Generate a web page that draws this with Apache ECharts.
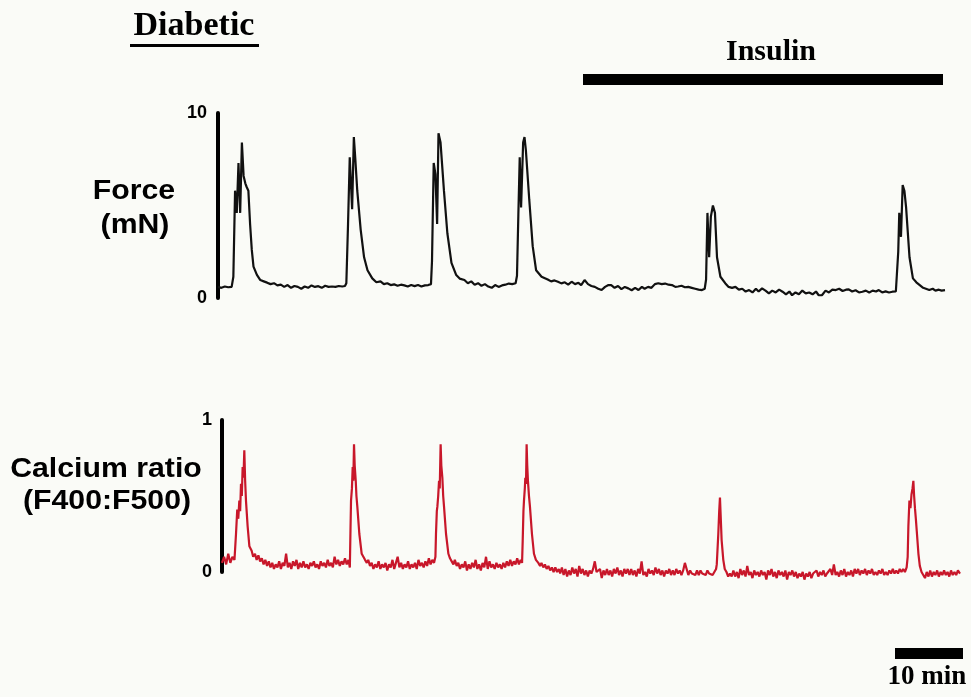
<!DOCTYPE html>
<html>
<head>
<meta charset="utf-8">
<title>Diabetic</title>
<script src="https://cdn.jsdelivr.net/npm/echarts@6/dist/echarts.min.js"></script>
<style>
  html, body { margin: 0; padding: 0; background: #fafbf7; }
  #chart { width: 971px; height: 697px; }
</style>
</head>
<body>
<div id="chart"></div>
<script>
// time span of the recording (min) and axis ticks
const timeMax = 106.5;
const forceTicks = [0, 10];
const calciumTicks = [0, 1];

// force trace, [minutes, mN]
const forceTrace = [
  [0,0.6],[0.5,0.55],[1,0.62],[1.5,0.58],[2,0.6],[2.25,1.15],[2.5,5.8],[2.75,4.6],[3,7.3],[3.25,4.6],
  [3.5,8.4],[3.75,6.6],[4,6.2],[4.2,6.0],[4.45,5.8],[4.7,4.0],[4.95,2.6],[5.2,1.7],[5.7,1.25],[6.2,0.97],
  [6.7,0.9],[7.2,0.83],[7.7,0.75],[8.2,0.8],[8.7,0.68],[9.2,0.72],[9.7,0.6],[10.2,0.7],[10.7,0.55],[11.2,0.65],
  [11.7,0.6],[12.2,0.5],[12.7,0.62],[13.2,0.55],[13.7,0.68],[14.2,0.6],[14.7,0.64],[15.2,0.55],[15.7,0.66],[16.2,0.6],
  [16.7,0.62],[17.2,0.6],[17.7,0.65],[18.2,0.62],[18.6,0.65],
  [18.8,0.8],[19.05,4.0],[19.3,7.6],[19.5,7.7],[19.65,4.8],[19.9,8.7],[20.1,7.6],[20.4,5.8],[20.9,3.7],[21.4,2.2],
  [21.9,1.5],[22.6,1.06],[23.2,0.85],[23.8,0.9],[24.3,0.75],[24.8,0.8],[25.3,0.7],[25.8,0.74],[26.3,0.66],[26.8,0.72],
  [27.3,0.68],[27.8,0.62],[28.3,0.7],[28.8,0.64],[29.3,0.7],[29.8,0.62],[30.3,0.68],[30.8,0.7],[31.2,0.75],
  [31.35,2.0],[31.6,7.3],[31.85,6.7],[32.1,4.0],[32.3,8.9],[32.6,8.4],[33.1,5.8],[33.6,3.5],[34.2,1.9],[34.9,1.24],
  [35.4,1.05],[36.1,0.97],[36.6,0.8],[37.1,0.9],[37.6,0.72],[38.1,0.8],[38.6,0.66],[39.1,0.75],[39.6,0.62],[40.1,0.55],
  [40.6,0.7],[41.1,0.6],[41.6,0.68],[42.1,0.72],[42.6,0.78],[43.1,0.75],[43.6,0.8],
  [43.8,1.2],[44.0,4.5],[44.2,7.6],[44.4,4.9],[44.7,8.4],[44.9,8.7],[45.1,8.0],[45.6,5.3],[46.1,2.8],[46.6,1.5],
  [47.4,1.15],[48.3,1.0],[48.8,0.9],[49.3,0.95],[49.8,0.88],[50.3,0.79],[50.8,0.85],[51.3,0.72],[51.8,0.88],[52.3,0.75],
  [52.8,0.82],[53.2,0.7],[53.7,0.97],[54.2,0.75],[54.7,0.65],[55.2,0.6],[55.7,0.5],[56.2,0.43],[56.7,0.6],[57.2,0.7],
  [57.6,0.7],[58.1,0.55],[58.6,0.65],[59.1,0.48],[59.6,0.6],[60.1,0.52],[60.6,0.42],[61.1,0.55],[61.6,0.43],[62.1,0.6],
  [62.5,0.5],[63.0,0.6],[63.5,0.55],[64.0,0.75],[64.5,0.8],[65.0,0.75],[65.5,0.78],[66.0,0.72],[66.5,0.7],[67.0,0.6],
  [67.4,0.62],[67.9,0.66],[68.4,0.58],[68.9,0.6],[69.4,0.55],[69.9,0.5],[70.4,0.45],[70.9,0.43],[71.3,0.5],
  [71.5,1.0],[71.7,4.6],[71.95,2.2],[72.2,4.4],[72.5,5.0],[72.8,4.6],[73.1,2.2],[73.6,1.15],[74.3,0.8],[74.8,0.6],
  [75.3,0.55],[75.8,0.6],[76.3,0.45],[76.8,0.5],[77.3,0.35],[77.8,0.43],[78.3,0.3],[78.8,0.5],[79.2,0.35],[79.7,0.52],
  [80.2,0.4],[80.7,0.25],[81.2,0.4],[81.7,0.3],[82.2,0.45],[82.7,0.34],[83.2,0.2],[83.7,0.35],[84.1,0.15],[84.6,0.3],
  [85.1,0.2],[85.6,0.4],[86.1,0.25],[86.6,0.3],[87.1,0.2],[87.6,0.35],[88.0,0.15],[88.5,0.16],[89.0,0.4],[89.5,0.3],
  [90.0,0.45],[90.5,0.43],[91.0,0.5],[91.5,0.38],[92.0,0.45],[92.4,0.47],[92.9,0.35],[93.4,0.42],[93.9,0.3],[94.4,0.34],
  [94.9,0.4],[95.4,0.3],[95.9,0.4],[96.4,0.35],[96.8,0.43],[97.3,0.3],[97.8,0.36],[98.3,0.3],[98.8,0.34],[99.3,0.35],
  [99.5,0.45],[99.65,2.5],[99.8,4.6],[100.05,3.3],[100.3,6.1],[100.55,5.8],[100.8,4.9],[101.3,2.2],[101.8,1.06],[102.3,0.85],
  [102.8,0.7],[103.3,0.55],[103.7,0.5],[104.2,0.43],[104.7,0.5],[105.1,0.4],[105.6,0.45],[106.0,0.4],[106.5,0.43]
];

// calcium ratio trace (F400:F500), [minutes, ratio]
const calciumTrace = [
  [0,0.06],[0.3,0.1],[0.6,0.05],[0.9,0.12],[1.2,0.06],[1.5,0.1],[1.8,0.08],[2.02,0.25],[2.2,0.41],[2.35,0.35],
  [2.5,0.47],[2.62,0.4],[2.74,0.58],[2.86,0.5],[2.98,0.69],[3.1,0.62],[3.22,0.8],[3.34,0.6],[3.46,0.47],[3.7,0.3],
  [3.95,0.17],[4.28,0.14],[4.5,0.1],[4.76,0.12],[5.0,0.08],[5.25,0.11],[5.5,0.07],[5.75,0.09],[6.0,0.05],[6.25,0.08],
  [6.5,0.04],[6.75,0.07],[7.0,0.03],[7.25,0.06],[7.5,0.02],[7.75,0.05],[8.0,0.03],[8.25,0.07],[8.5,0.02],[8.75,0.06],
  [9.0,0.04],[9.25,0.12],[9.5,0.03],[9.75,0.06],[10.0,0.02],[10.25,0.07],[10.5,0.04],[10.75,0.08],[11.0,0.02],[11.25,0.06],
  [11.5,0.03],[11.75,0.07],[12.0,0.03],[12.25,0.05],[12.5,0.02],[12.75,0.06],[13.0,0.04],[13.25,0.07],[13.5,0.03],[13.75,0.05],
  [14.0,0.02],[14.25,0.07],[14.5,0.04],[14.75,0.06],[15.0,0.03],[15.25,0.08],[15.5,0.04],[15.75,0.06],[16.0,0.03],[16.25,0.1],
  [16.5,0.05],[16.75,0.08],[17.0,0.04],[17.25,0.07],[17.5,0.05],[17.75,0.09],[18.0,0.05],[18.25,0.08],[18.45,0.03],
  [18.55,0.3],[18.62,0.47],[18.75,0.55],[18.86,0.69],[18.95,0.6],[19.05,0.84],[19.15,0.7],[19.3,0.6],[19.4,0.5],[19.53,0.43],
  [19.82,0.25],[20.16,0.12],[20.4,0.1],[20.64,0.08],[20.9,0.06],[21.1,0.08],[21.36,0.04],[21.6,0.06],[21.85,0.02],[22.1,0.05],
  [22.35,0.03],[22.6,0.07],[22.85,0.02],[23.1,0.05],[23.35,0.03],[23.6,0.06],[23.85,0.01],[24.1,0.05],[24.35,0.03],[24.6,0.08],
  [24.85,0.02],[25.1,0.06],[25.35,0.1],[25.6,0.03],[25.85,0.06],[26.1,0.02],[26.35,0.05],[26.6,0.03],[26.85,0.07],[27.1,0.02],
  [27.35,0.05],[27.6,0.03],[27.85,0.06],[28.1,0.02],[28.35,0.08],[28.6,0.04],[28.85,0.06],[29.1,0.03],[29.35,0.07],[29.6,0.04],
  [29.85,0.09],[30.1,0.05],[30.35,0.08],[30.6,0.06],[30.8,0.1],
  [30.88,0.25],[31.0,0.4],[31.08,0.43],[31.2,0.5],[31.32,0.6],[31.42,0.55],[31.55,0.84],[31.65,0.7],[31.8,0.62],[31.92,0.5],
  [32.04,0.43],[32.33,0.25],[32.67,0.12],[32.9,0.09],[33.15,0.07],[33.4,0.05],[33.6,0.08],[33.87,0.04],[34.1,0.06],[34.35,0.02],
  [34.6,0.05],[34.85,0.03],[35.1,0.07],[35.35,0.01],[35.6,0.05],[35.85,0.02],[36.1,0.06],[36.35,0.03],[36.6,0.08],[36.85,0.02],
  [37.1,0.05],[37.35,0.01],[37.6,0.06],[37.85,0.03],[38.1,0.1],[38.35,0.02],[38.6,0.07],[38.85,0.03],[39.1,0.05],[39.35,0.02],
  [39.6,0.06],[39.85,0.03],[40.1,0.05],[40.35,0.02],[40.6,0.06],[40.85,0.03],[41.1,0.07],[41.35,0.04],[41.6,0.08],[41.85,0.04],
  [42.1,0.07],[42.35,0.05],[42.6,0.09],[42.85,0.05],[43.1,0.08],[43.3,0.06],
  [43.39,0.2],[43.5,0.4],[43.58,0.47],[43.7,0.55],[43.77,0.62],[43.87,0.58],[43.96,0.84],[44.05,0.7],[44.15,0.6],[44.3,0.5],
  [44.44,0.43],[44.73,0.25],[45.02,0.12],[45.3,0.08],[45.65,0.06],[45.9,0.04],[46.1,0.06],[46.37,0.03],[46.6,0.05],[46.85,0.02],
  [47.1,0.04],[47.35,0.01],[47.6,0.03],[47.85,0.0],[48.1,0.03],[48.35,0.0],[48.6,0.02],[48.8,-0.01],[49.05,0.03],[49.3,-0.02],
  [49.55,0.02],[49.8,-0.03],[50.05,0.01],[50.3,-0.02],[50.55,0.03],[50.8,-0.01],[51.05,0.02],[51.3,-0.03],[51.55,0.04],[51.8,-0.01],
  [52.05,0.02],[52.3,-0.02],[52.55,0.01],[52.8,-0.03],[53.05,0.01],[53.3,-0.01],[53.55,0.02],[53.8,0.07],[54.05,0.0],[54.3,-0.01],
  [54.55,0.02],[54.8,-0.04],[55.05,0.01],[55.3,-0.02],[55.55,0.02],[55.8,-0.02],[56.05,0.01],[56.3,-0.03],[56.55,0.02],[56.8,-0.01],
  [57.05,0.03],[57.3,-0.02],[57.55,0.01],[57.8,-0.03],[58.05,0.02],[58.3,-0.01],[58.55,0.02],[58.8,-0.02],[59.05,0.02],[59.3,-0.02],
  [59.55,0.01],[59.8,-0.03],[60.05,0.02],[60.3,-0.01],[60.55,0.07],[60.8,-0.02],[61.05,0.0],[61.3,-0.03],[61.55,0.02],[61.8,-0.01],
  [62.05,0.01],[62.3,-0.02],[62.55,0.03],[62.8,-0.01],[63.05,0.02],[63.3,-0.02],[63.55,0.01],[63.8,-0.03],[64.05,0.01],[64.3,-0.01],
  [64.55,0.02],[64.8,-0.02],[65.05,0.01],[65.3,-0.02],[65.55,0.02],[65.8,-0.01],[66.05,0.01],[66.3,-0.02],[66.55,0.01],[66.8,0.06],
  [67.05,0.02],[67.3,-0.02],[67.55,0.01],[67.8,-0.01],[68.05,0.0],[68.3,-0.02],[68.55,0.01],[68.8,-0.02],[69.05,0.01],[69.3,-0.01],
  [69.55,0.0],[69.8,-0.02],[70.05,0.01],[70.3,-0.01],[70.55,0.0],[70.8,-0.02],[71.05,0.0],[71.3,0.02],
  [71.4,0.05],[71.62,0.25],[71.75,0.4],[71.86,0.49],[71.98,0.35],[72.1,0.21],[72.34,0.08],[72.55,0.02],[72.8,0.0],[73.05,-0.03],
  [73.3,-0.01],[73.55,-0.03],[73.8,0.01],[74.05,-0.03],[74.3,0.0],[74.55,-0.04],[74.8,0.02],[75.05,-0.02],[75.3,0.01],[75.55,-0.03],
  [75.8,0.04],[76.05,-0.02],[76.3,0.0],[76.55,-0.04],[76.8,0.01],[77.05,-0.02],[77.3,0.0],[77.55,-0.03],[77.8,0.01],[78.05,-0.02],
  [78.3,0.0],[78.55,-0.05],[78.8,0.01],[79.05,-0.02],[79.3,0.02],[79.55,-0.03],[79.8,0.0],[80.05,-0.04],[80.3,0.01],[80.55,-0.02],
  [80.8,0.0],[81.05,-0.03],[81.3,0.01],[81.55,-0.05],[81.8,0.0],[82.05,-0.02],[82.3,0.01],[82.55,-0.03],[82.8,0.0],[83.05,-0.04],
  [83.3,-0.01],[83.55,-0.03],[83.8,0.0],[84.05,-0.05],[84.3,-0.01],[84.55,-0.03],[84.8,0.0],[85.05,-0.04],[85.3,-0.01],[85.55,-0.02],
  [85.8,0.01],[86.05,-0.03],[86.3,0.0],[86.55,-0.02],[86.8,0.01],[87.05,-0.03],[87.3,-0.01],[87.55,-0.02],[87.8,0.02],[88.05,-0.02],
  [88.3,0.05],[88.55,-0.02],[88.8,0.0],[89.05,-0.03],[89.3,0.01],[89.55,-0.02],[89.8,0.02],[90.05,-0.03],[90.3,0.0],[90.55,-0.02],
  [90.8,0.01],[91.05,-0.03],[91.3,0.02],[91.55,-0.01],[91.8,0.02],[92.05,-0.02],[92.3,0.01],[92.55,-0.01],[92.8,0.02],[93.05,-0.02],
  [93.3,0.01],[93.55,-0.01],[93.8,0.02],[94.05,-0.02],[94.3,0.0],[94.55,-0.02],[94.8,0.01],[95.05,-0.01],[95.3,0.02],[95.55,-0.02],
  [95.8,0.0],[96.05,-0.02],[96.3,0.01],[96.55,-0.01],[96.8,0.02],[97.05,-0.01],[97.3,0.01],[97.55,-0.01],[97.8,0.02],[98.05,0.0],
  [98.3,0.02],[98.55,0.0],[98.8,0.03],
  [98.95,0.1],[99.05,0.3],[99.2,0.47],[99.35,0.42],[99.5,0.51],[99.65,0.55],[99.77,0.6],[99.88,0.5],[100.0,0.42],[100.13,0.35],
  [100.26,0.27],[100.5,0.12],[100.7,0.04],[100.95,0.0],[101.2,-0.01],[101.45,-0.04],[101.7,0.0],[101.95,-0.03],[102.2,0.01],[102.45,-0.03],
  [102.7,0.0],[102.95,-0.02],[103.2,0.01],[103.45,-0.03],[103.7,0.0],[103.95,-0.02],[104.2,0.01],[104.45,-0.02],[104.7,0.0],[104.95,-0.03],
  [105.2,0.01],[105.45,-0.02],[105.7,0.0],[105.95,-0.02],[106.2,0.01],[106.5,-0.01]
];

const chart = echarts.init(document.getElementById('chart'));

const sans = '"Liberation Sans", Arial, sans-serif';
const serif = '"Liberation Serif", "Times New Roman", serif';

function yAxisFor(gridIndex, ticks, offset) {
  return {
    type: 'value',
    gridIndex: gridIndex,
    min: ticks[0],
    max: ticks[ticks.length - 1],
    interval: ticks[1] - ticks[0],
    offset: offset,
    axisLine: { show: true, lineStyle: { color: '#000', width: 4 } },
    axisTick: { show: false },
    splitLine: { show: false },
    axisLabel: {
      color: '#000', fontSize: 18, fontWeight: 'bold', fontFamily: sans, margin: 8
    }
  };
}

chart.setOption({
  animation: false,
  backgroundColor: '#fafbf7',
  grid: [
    { left: 218, top: 113, width: 727, height: 185 },
    { left: 222, top: 420, width: 738, height: 152 }
  ],
  xAxis: [
    { type: 'value', gridIndex: 0, min: 0, max: timeMax, show: false },
    { type: 'value', gridIndex: 1, min: 0, max: timeMax, show: false }
  ],
  yAxis: [
    yAxisFor(0, forceTicks, 3),
    yAxisFor(1, calciumTicks, 2)
  ],
  series: [
    {
      type: 'line',
      xAxisIndex: 0,
      yAxisIndex: 0,
      data: forceTrace,
      showSymbol: false,
      clip: false,
      lineStyle: { color: '#111', width: 2.2 }
    },
    {
      type: 'line',
      xAxisIndex: 1,
      yAxisIndex: 1,
      data: calciumTrace,
      showSymbol: false,
      clip: false,
      lineStyle: { color: '#c8172a', width: 2.2 }
    }
  ],
  graphic: [
    // title
    { type: 'text', x: 194, y: 26, style: { text: 'Diabetic', font: 'bold 34px ' + serif, fill: '#000', align: 'center', verticalAlign: 'middle' } },
    { type: 'rect', shape: { x: 130, y: 44, width: 129, height: 3 }, style: { fill: '#000' } },
    // insulin period
    { type: 'text', x: 771, y: 52, style: { text: 'Insulin', font: 'bold 30px ' + serif, fill: '#000', align: 'center', verticalAlign: 'middle' } },
    { type: 'rect', shape: { x: 583, y: 74, width: 360, height: 11 }, style: { fill: '#000' } },
    // axis titles
    { type: 'text', x: 134, y: 191, scaleX: 1.08, style: { text: 'Force', font: 'bold 28px ' + sans, fill: '#000', align: 'center', verticalAlign: 'middle' } },
    { type: 'text', x: 135, y: 225, scaleX: 1.08, style: { text: '(mN)', font: 'bold 28px ' + sans, fill: '#000', align: 'center', verticalAlign: 'middle' } },
    { type: 'text', x: 106, y: 469, scaleX: 1.08, style: { text: 'Calcium ratio', font: 'bold 28px ' + sans, fill: '#000', align: 'center', verticalAlign: 'middle' } },
    { type: 'text', x: 107, y: 501, scaleX: 1.08, style: { text: '(F400:F500)', font: 'bold 28px ' + sans, fill: '#000', align: 'center', verticalAlign: 'middle' } },
    // time scale bar
    { type: 'rect', shape: { x: 895, y: 648, width: 68, height: 11 }, style: { fill: '#000' } },
    { type: 'text', x: 927, y: 677, style: { text: '10 min', font: 'bold 27px ' + serif, fill: '#000', align: 'center', verticalAlign: 'middle' } }
  ]
});
</script>
</body>
</html>
